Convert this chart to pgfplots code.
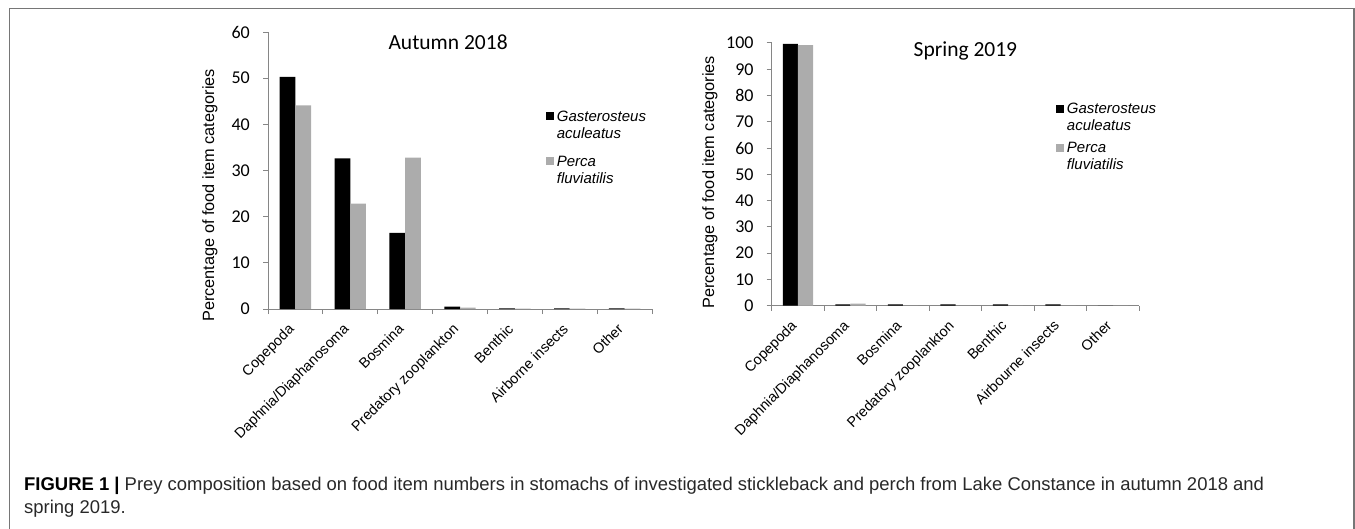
\documentclass[border=0pt]{standalone}
\usepackage{fontspec}
\setmainfont{Liberation Sans}
\newfontfamily\carlito{Carlito}
\usepackage{pgfplots}
\pgfplotsset{compat=1.18}

\definecolor{axgray}{RGB}{134,134,134}
\definecolor{bargray}{RGB}{172,172,172}
\definecolor{framegray}{RGB}{118,118,118}
\definecolor{capgray}{RGB}{40,40,40}

% autumn 2018
\pgfplotstableread{
x gast perca
0 50.3 44.1
1 32.6 22.8
2 16.5 32.8
3 0.5  0.3
4 0.15 0.1
5 0.15 0.1
6 0.15 0.1
}\autumn
% spring 2019
\pgfplotstableread{
x gast perca
0 99.7 99.2
1 0.5  0.8
2 0.5  0
3 0.5  0
4 0.5  0
5 0.5  0
6 0    0
}\spring

\pgfplotsset{
  prey/.style={
    scale only axis, anchor=south west,
    ybar=0pt,
    axis lines*=left,
    axis line style={axgray, line width=1pt},
    tick style={axgray, line width=1pt},
    tick align=outside,
    major tick length=5pt,
    xmin=-0.5, xmax=6.5, ymin=0,
    xtick={-0.5,0.5,...,6.5}, xticklabels={},
    extra x ticks={0,1,2,3,4,5,6},
    extra x tick style={major tick length=0pt},
    xticklabel style={xshift=-8pt, yshift=-13.5pt, rotate=45, anchor=north east,
      inner sep=0pt, font=\fontsize{14.4}{17}\selectfont},
    yticklabel style={inner sep=0pt, anchor=east, xshift=-13pt,
      font=\carlito\fontsize{18}{20}\selectfont},
    /pgf/number format/assume math mode=true,
    ylabel={Percentage of food item categories},
    ylabel style={anchor=center, font=\fontsize{16.3}{18}\selectfont},
    legend image code/.code={\fill[##1] (0pt,1pt) rectangle (8pt,9pt);},
    legend style={draw=none, fill=none, inner sep=0pt, anchor=north west,
      font=\itshape\fontsize{15}{17}\selectfont, column sep=3pt,
      nodes={inner sep=0pt, text depth=}, cells={anchor=base west}},
    clip=false,
  },
}

\begin{document}
\begin{tikzpicture}[x=1pt, y=1pt]
\useasboundingbox (0pt,0pt) rectangle (1355pt,528pt);
\draw[framegray, line width=1.2pt] (9.5pt,-20pt) rectangle (1354pt,519.5pt);

\begin{axis}[prey,
  at={(268pt,219pt)}, width=384pt, height=277pt,
  ymax=60, ytick={0,10,...,60},
  bar width=15.7pt,
  extra x tick labels={Copepoda,Daphnia/Diaphanosoma,Bosmina,Predatory zooplankton,Benthic,Airborne insects,Other},
  ylabel style={at={(axis description cs:-0.151,0.41)}},
  legend style={at={(axis description cs:0.723,0.722)}, row sep=11pt},
]
\addplot[fill=black, draw=none] table[x=x, y=gast] {\autumn};
\addplot[fill=bargray, draw=none] table[x=x, y=perca] {\autumn};
\addlegendentry{\begin{tabular}[t]{@{}l@{}}Gasterosteus\\aculeatus\end{tabular}}
\addlegendentry{\begin{tabular}[t]{@{}l@{}}Perca\\fluviatilis\end{tabular}}
\node[anchor=base, font=\carlito\fontsize{21.5}{24}\selectfont] at (axis description cs:0.469,0.9386) {Autumn 2018};
\end{axis}

\begin{axis}[prey,
  at={(771.7pt,222.3pt)}, width=367.6pt, height=262.7pt,
  ymax=100, ytick={0,10,...,100},
  bar width=15.2pt,
  extra x tick labels={Copepoda,Daphnia/Diaphanosoma,Bosmina,Predatory zooplankton,Benthic,Airbourne insects,Other},
  ylabel style={at={(axis description cs:-0.168,0.47)}},
  legend style={at={(axis description cs:0.7726,0.776)}, row sep=5pt},
]
\addplot[fill=black, draw=none] table[x=x, y=gast] {\spring};
\addplot[fill=bargray, draw=none] table[x=x, y=perca] {\spring};
\addlegendentry{\begin{tabular}[t]{@{}l@{}}Gasterosteus\\aculeatus\end{tabular}}
\addlegendentry{\begin{tabular}[t]{@{}l@{}}Perca\\fluviatilis\end{tabular}}
\node[anchor=base, font=\carlito\fontsize{21.5}{24}\selectfont] at (axis description cs:0.527,0.9505) {Spring 2019};
\end{axis}

\node[anchor=base west, align=left, text=capgray, inner sep=0pt,
  font=\fontsize{18.45}{22.5}\selectfont] at (24pt,15pt)
  {\textbf{\color{black}FIGURE 1 |} Prey composition based on food item numbers in stomachs of investigated stickleback and perch from Lake Constance in autumn 2018 and\\spring 2019.};
\end{tikzpicture}
\end{document}
